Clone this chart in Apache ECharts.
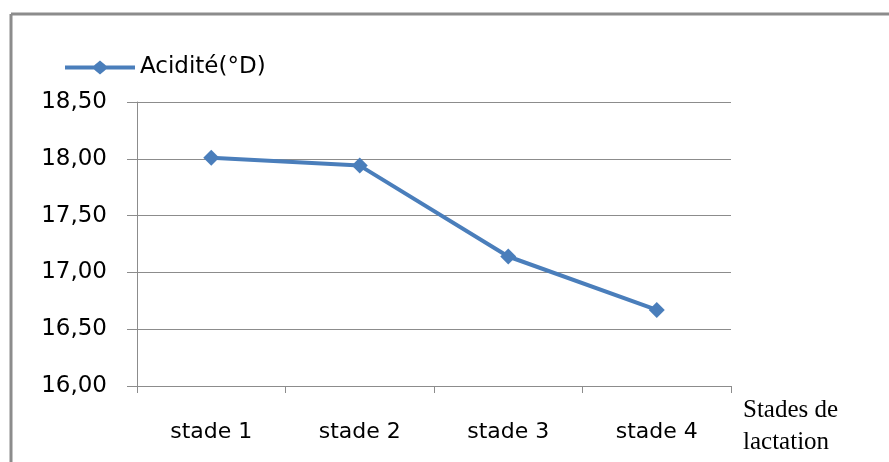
<!DOCTYPE html>
<html>
<head>
<meta charset="utf-8">
<script src="https://cdn.jsdelivr.net/npm/echarts@6/dist/echarts.min.js"></script>
<style>
html,body{margin:0;padding:0;background:#fff;}
#c{width:889px;height:462px;}
</style>
</head>
<body>
<div id="c"></div>
<script>
const categories = ['stade 1', 'stade 2', 'stade 3', 'stade 4'];
const acidite = [18.01, 17.94, 17.14, 16.67];
const seriesName = 'Acidité(°D)';
const xAxisName = 'Stades de\nlactation';

const chart = echarts.init(document.getElementById('c'), null, {renderer: 'canvas'});
chart.setOption({
  animation: false,
  backgroundColor: '#fff',
  graphic: [
    {type: 'line', shape: {x1: 11, y1: 14, x2: 889, y2: 14}, style: {stroke: '#8c8c8c', lineWidth: 3}, silent: true},
    {type: 'line', shape: {x1: 11, y1: 14, x2: 11, y2: 462}, style: {stroke: '#8c8c8c', lineWidth: 3}, silent: true}
  ],
  legend: {
    left: 60, top: 51,
    itemWidth: 70, itemHeight: 14, itemGap: 5,
    textStyle: {fontFamily: 'DejaVu Sans', fontSize: 23, color: '#000'},
    data: [{name: seriesName, icon: 'path://M0,5 L29,5 L35,0 L41,5 L70,5 L70,9 L41,9 L35,14 L29,9 L0,9 Z'}]
  },
  grid: {left: 137, right: 158, top: 102, bottom: 76, containLabel: false},
  xAxis: {
    type: 'category',
    data: categories,
    boundaryGap: true,
    name: xAxisName,
    nameLocation: 'end',
    nameGap: 12,
    nameTextStyle: {fontFamily: 'Liberation Serif', fontSize: 25, color: '#000', lineHeight: 32, align: 'left', verticalAlign: 'top', padding: [8, 0, 0, 0]},
    axisLine: {lineStyle: {color: '#8c8c8c', width: 1}},
    axisTick: {show: true, length: 7, lineStyle: {color: '#8c8c8c'}},
    axisLabel: {fontFamily: 'DejaVu Sans', fontSize: 22, color: '#000', margin: 35}
  },
  yAxis: {
    type: 'value',
    min: 16, max: 18.5, interval: 0.5,
    axisLine: {show: true, lineStyle: {color: '#8c8c8c', width: 1}},
    axisTick: {show: true, length: 10, lineStyle: {color: '#8c8c8c'}},
    axisLabel: {fontFamily: 'DejaVu Sans', fontSize: 23, color: '#000', margin: 30,
      formatter: v => v.toFixed(2).replace('.', ',')},
    splitLine: {show: true, lineStyle: {color: '#8c8c8c', width: 1}}
  },
  series: [{
    name: seriesName,
    type: 'line',
    data: acidite,
    symbol: 'diamond',
    symbolSize: 16,
    lineStyle: {color: '#4a7ebb', width: 4},
    itemStyle: {color: '#4a7ebb'}
  }]
});
</script>
</body>
</html>
